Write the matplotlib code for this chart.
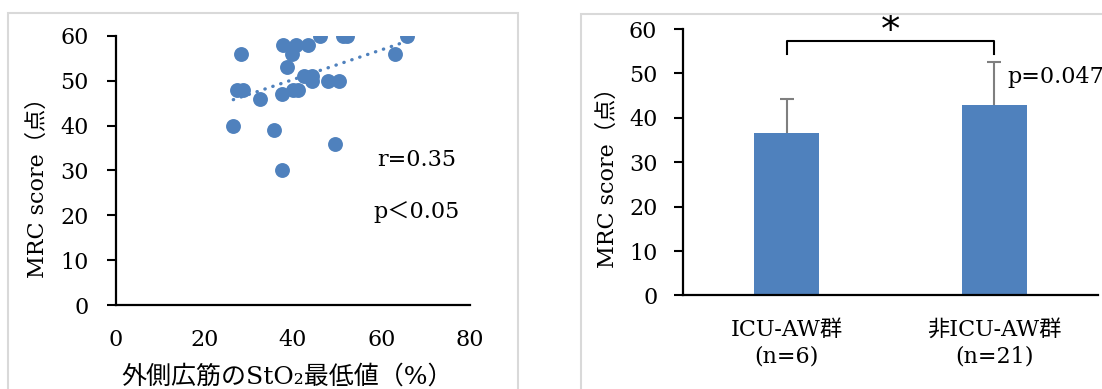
import matplotlib.pyplot as plt
from matplotlib.patches import Rectangle

plt.rcParams['font.family'] = ['DejaVu Serif', 'Noto Sans CJK JP']

# scatter: StO2 minimum (%) vs MRC score
sto2 = [26.5, 28.3, 27.4, 28.8, 32.5, 35.7, 37.4, 37.4, 37.7, 38.6, 39.8, 40.7, 39.9,
        41.2, 43.4, 42.5, 44.2, 44.2, 46.1, 48.0, 50.4, 49.5, 51.4, 52.1, 63.1, 65.8]
mrc = [40, 56, 48, 48, 46, 39, 30, 47, 58, 53, 56, 58, 48,
       48, 58, 51, 51, 50, 60, 50, 50, 36, 60, 60, 56, 60]
trend_slope = 0.332
trend_intercept = 37.0

# bar chart: groups
groups = ['ICU-AW群\n(n=6)', '非ICU-AW群\n(n=21)']
group_mean = [36.5, 42.8]
group_sd = [7.7, 9.8]

blue = '#4F81BD'
fs = 16

fig = plt.figure(figsize=(11.02, 3.89), dpi=100)

# light frames around the two panels
fig.patches.append(Rectangle((0.0073, -0.1), 0.4628, 1.0666, transform=fig.transFigure,
                             fill=False, edgecolor='#d9d9d9', lw=1.5))
fig.patches.append(Rectangle((0.527, -0.1), 0.6, 1.064, transform=fig.transFigure,
                             fill=False, edgecolor='#d9d9d9', lw=1.5))

# ---- left: scatter ----
ax1 = fig.add_axes([0.1053, 0.2159, 0.3212, 0.6916])
ax1.scatter(sto2, mrc, s=115, color=blue, zorder=3, linewidths=0)
tx = [min(sto2), max(sto2)]
ax1.plot(tx, [trend_intercept + trend_slope * v for v in tx], color=blue, lw=2.4,
         linestyle=(0, (0.1, 2.4)), dash_capstyle='round', zorder=2)
ax1.set_xlim(0, 80)
ax1.set_ylim(0, 60)
ax1.set_xticks(range(0, 81, 20))
ax1.set_yticks(range(0, 61, 10))
ax1.text(68, 32.4, 'r=0.35', fontsize=fs, ha='center', va='center')
ax1.text(68, 20.8, 'p＜0.05', fontsize=fs, ha='center', va='center')
ax1.set_ylabel('MRC score（点）', fontsize=fs, va='center')
ax1.yaxis.set_label_coords(-0.22, 0.457)
ax1.set_xlabel('外側広筋のStO₂最低値（%）', fontsize=18, va='center')
ax1.xaxis.set_label_coords(0.483, -0.268)

# ---- right: bar chart ----
ax2 = fig.add_axes([0.6198, 0.2404, 0.3766, 0.685])
xs = range(len(groups))
ax2.bar(xs, group_mean, width=0.314, color=blue, zorder=2)
eb = ax2.errorbar(xs, group_mean, yerr=[[0, 0], group_sd], fmt='none', ecolor='#7f7f7f',
                  elinewidth=1.5, capsize=5, capthick=1.5, zorder=3)
eb[1][0].set_visible(False)  # no cap on the lower side
ax2.set_xlim(-0.5, 1.5)
ax2.set_ylim(0, 60)
ax2.set_yticks(range(0, 61, 10))
ax2.set_xticks(list(xs))
ax2.set_xticklabels(groups, fontsize=fs, linespacing=1.25)
ax2.plot([0, 0, 1, 1], [54.4, 57.4, 57.4, 54.4], color='black', lw=1.5, clip_on=False)
ax2.text(0.5, 59.6, '*', fontsize=28, ha='center', va='center', family='DejaVu Sans')
ax2.text(1.065, 49.2, 'p=0.047', fontsize=fs, ha='left', va='center', clip_on=False)
ax2.set_ylabel('MRC score（点）', fontsize=fs, va='center')
ax2.yaxis.set_label_coords(-0.181, 0.463)

for ax, ypad in ((ax1, 13), (ax2, 12)):
    for side in ('top', 'right'):
        ax.spines[side].set_visible(False)
    for side in ('left', 'bottom'):
        ax.spines[side].set_linewidth(1.6)
    ax.tick_params(axis='y', direction='out', length=6.5, width=1.5, pad=ypad, labelsize=fs)
    ax.tick_params(axis='x', length=0, pad=17, labelsize=fs)

fig.savefig('out.png', dpi=100)
